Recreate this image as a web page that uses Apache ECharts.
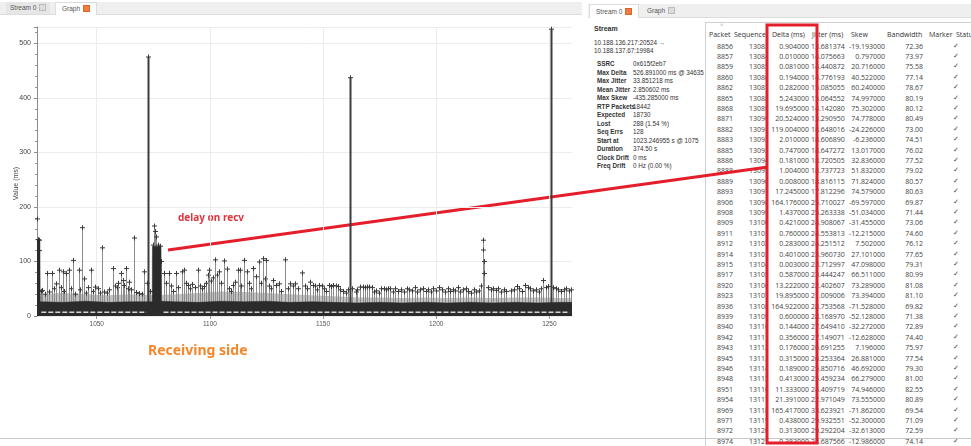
<!DOCTYPE html>
<html>
<head>
<meta charset="utf-8">
<script src="https://cdn.jsdelivr.net/npm/echarts@6/dist/echarts.min.js"></script>
<style>
  body { margin: 0; width: 971px; height: 446px; overflow: hidden; background: #fff; position: relative; font-family: "Liberation Sans", sans-serif; }
  .abs { position: absolute; white-space: nowrap; }
  .strip { position: absolute; background: #efefef; border-bottom: 1px solid #dcdcdc; }
  .tab { position: absolute; font-size: 6.5px; color: #555; line-height: 12px; height: 12px; }
  .tab.on { background: #fff; border: 1px solid #dcdcdc; border-bottom: none; }
  .ico { display: inline-block; width: 5px; height: 5px; margin-left: 3px; vertical-align: -1px; border: 1px solid #bbb; background: #ddd; }
  .ico.on { background: #f07c3e; border-color: #e0652a; }
  .st { font-size: 6.3px; color: #333; }
  .st b { position: absolute; left: 0; }
  .st span { position: absolute; left: 36px; }
  .cell { position: absolute; font-family: "Open Sans", sans-serif; font-size: 7px; color: #444; white-space: nowrap; line-height: 9px; }
  .hd { color: #333; }
</style>
</head>
<body>
<div class="strip" style="left:0;top:2px;width:582px;height:12px"></div>
<div class="tab" style="left:6px;top:2px;padding:0 4px;background:#e6e6e6">Stream 0<span class="ico"></span></div>
<div class="tab on" style="left:55px;top:2px;padding:0 6px">Graph<span class="ico on"></span></div>

<div class="strip" style="left:588px;top:4px;width:383px;height:13px"></div>
<div class="tab on" style="left:589px;top:4px;padding:0 6px;height:13px;line-height:13px">Stream 0<span class="ico on"></span></div>
<div class="tab" style="left:643px;top:4px;padding:0 4px;height:13px;line-height:13px">Graph<span class="ico"></span></div>

<div id="stats" class="abs" style="left:594px;top:0;width:110px;height:180px"></div>
<div id="table" class="abs" style="left:705px;top:22px;width:266px;height:424px;border-left:1px solid #cfcfcf;border-top:1px solid #cfcfcf;overflow:hidden"></div>
<div class="abs" style="left:0;top:438px;width:971px;height:1px;background:#c8c8c8"></div>

<div id="chart" style="position:absolute;left:0;top:0;width:971px;height:446px;z-index:2"></div>

<script>
// ---- graph: delta per packet (ms) over arrival time (s)
const xTicks = [1050, 1100, 1150, 1200, 1250]

const spikeTime = [
  1023.8, 1024.0, 1024.3, 1024.6, 1025.2, 1026.0, 1027.0, 1028.2, 1029.0, 1030.2,
  1031.0, 1032.0, 1033.4, 1034.0, 1034.9, 1035.6, 1036.4, 1037.8, 1038.5, 1039.7,
  1040.5, 1042.0, 1042.7, 1043.4, 1044.2, 1045.2, 1046.0, 1047.4, 1048.3, 1049.2,
  1050.5, 1051.3, 1052.3, 1053.2, 1054.5, 1055.6, 1057.0, 1058.0, 1058.8, 1059.6,
  1060.7, 1061.5, 1062.2, 1062.9, 1063.7, 1064.4, 1065.3, 1066.6, 1067.5, 1068.8,
  1069.8, 1071.0, 1072.0, 1072.8, 1073.6, 1074.8, 1075.2, 1075.6, 1076.4, 1077.0,
  1077.8, 1078.4, 1079.9, 1080.8, 1081.8, 1082.8, 1083.9, 1085.0, 1086.0, 1087.7,
  1088.7, 1089.6, 1090.5, 1091.4, 1092.3, 1093.5, 1094.6, 1095.6, 1096.5, 1097.4,
  1098.2, 1099.0, 1099.8, 1100.7, 1101.5, 1102.3, 1103.2, 1104.2, 1105.1, 1106.1,
  1107.4, 1108.5, 1109.3, 1110.3, 1111.2, 1112.3, 1113.1, 1113.9, 1115.0, 1116.5,
  1117.4, 1118.2, 1118.9, 1120.3, 1121.9, 1122.6, 1123.5, 1124.3, 1125.0, 1126.2,
  1127.0, 1128.0, 1129.2, 1130.5, 1131.5, 1133.3, 1134.3, 1135.4, 1136.5, 1137.7,
  1138.8, 1140.8, 1141.8, 1142.9, 1144.3, 1145.4, 1146.3, 1147.3, 1148.2, 1149.4,
  1150.5, 1151.5, 1152.7, 1153.5, 1154.5, 1155.5, 1156.4, 1157.6, 1158.7, 1160.0,
  1161.0, 1162.0, 1163.0, 1164.4, 1165.2, 1166.4, 1167.5, 1168.5, 1169.6, 1170.5,
  1171.6, 1172.7, 1173.5, 1174.6, 1175.7, 1176.8, 1177.7, 1178.8, 1179.7, 1180.8,
  1182.0, 1183.2, 1184.5, 1185.8, 1187.0, 1188.0, 1189.2, 1190.6, 1191.7, 1192.7,
  1194.0, 1195.3, 1196.4, 1197.6, 1198.8, 1200.0, 1201.4, 1202.5, 1203.7, 1205.0,
  1206.0, 1207.2, 1208.4, 1209.6, 1210.7, 1211.8, 1213.0, 1214.2, 1215.4, 1216.6,
  1217.7, 1218.8, 1219.8, 1220.7, 1220.8, 1220.9, 1221.3, 1222.8, 1224.0, 1225.2,
  1226.3, 1227.5, 1228.6, 1229.8, 1231.0, 1233.0, 1234.2, 1235.5, 1236.7, 1238.0,
  1239.2, 1240.4, 1241.5, 1242.7, 1244.0, 1245.2, 1246.2, 1247.3, 1248.4, 1249.5,
  1250.9, 1251.7, 1252.8, 1254.0, 1255.2, 1256.3, 1257.5, 1258.6, 1259.5
]
const spikeDelta = [
  178, 140, 139, 120, 45, 47, 40, 78, 44, 78,
  50, 59, 84, 52, 81, 45, 78, 84, 50, 102,
  40, 84, 48, 162, 68, 42, 52, 84, 45, 53,
  50, 42, 125, 44, 42, 48, 87, 55, 52, 60,
  78, 65, 56, 87, 50, 62, 48, 143, 43, 41,
  40, 81, 60, 475, 45, 130, 165, 155, 145, 130,
  128, 100, 78, 60, 78, 55, 45, 78, 52, 81,
  84, 60, 56, 50, 58, 52, 84, 55, 50, 54,
  60, 75, 84, 64, 70, 103, 75, 81, 60, 101,
  86, 50, 45, 56, 62, 84, 84, 55, 102, 81,
  60, 50, 87, 72, 99, 60, 105, 68, 102, 55,
  50, 65, 56, 59, 45, 103, 50, 59, 55, 59,
  50, 79, 55, 50, 62, 56, 55, 48, 56, 55,
  50, 45, 56, 54, 56, 55, 54, 48, 45, 42,
  48, 437, 50, 44, 48, 53, 53, 52, 53, 53,
  52, 44, 46, 42, 50, 50, 48, 50, 50, 44,
  50, 45, 48, 44, 50, 48, 46, 52, 44, 48,
  50, 45, 48, 44, 50, 46, 52, 48, 44, 50,
  45, 48, 46, 52, 44, 48, 50, 45, 42, 48,
  44, 46, 55, 139, 121, 100, 78, 52, 48, 50,
  47, 50, 44, 48, 45, 46, 48, 54, 50, 45,
  56, 52, 50, 46, 48, 44, 50, 65, 52, 54,
  526, 52, 50, 48, 45, 48, 50, 46, 48
]

// dense jitter noise along the bottom
const bandTime = [1023.6, 1024.9, 1025.0, 1035, 1045, 1055, 1065, 1074.5, 1074.6, 1078.4, 1078.5, 1085, 1095, 1105, 1115, 1125, 1135, 1145, 1155, 1165, 1175, 1185, 1195, 1205, 1215, 1225, 1235, 1245, 1255, 1260]
const bandTop  = [140, 140, 26, 25, 27, 25, 26, 26, 128, 128, 27, 26, 25, 27, 26, 27, 25, 26, 25, 24, 25, 24, 25, 24, 25, 24, 25, 24, 25, 25]
const hazeTime = [1023.6, 1035, 1045, 1055, 1065, 1075, 1085, 1095, 1105, 1115, 1125, 1135, 1145, 1155, 1165, 1175, 1185, 1195, 1205, 1215, 1225, 1235, 1245, 1255, 1260]
const hazeTop  = [40, 42, 40, 38, 40, 38, 40, 42, 45, 44, 42, 40, 38, 36, 34, 34, 33, 34, 33, 34, 33, 34, 34, 33, 33]
const gapTime  = [1025.5, 1072.0, 1073.0, 1079.5, 1259.0]
const gapLevel = [7, 7, null, 7, 7]

// ---- stream panel
const statLabels = ['SSRC', 'Max Delta', 'Max Jitter', 'Mean Jitter', 'Max Skew', 'RTP Packets', 'Expected', 'Lost', 'Seq Errs', 'Start at', 'Duration', 'Clock Drift', 'Freq Drift']
const statValues = ['0x615f2eb7', '526.891000 ms @ 34635', '33.851218 ms', '2.850602 ms', '-435.285000 ms', '18442', '18730', '288 (1.54 %)', '128', '1023.246955 s @ 1075', '374.50 s', '0 ms', '0 Hz (0.00 %)']

// ---- packet table
const headers = ['Packet', 'Sequence', 'Delta (ms)', 'Jitter (ms)', 'Skew', 'Bandwidth', 'Marker', 'Status']
const packets = [8856, 8857, 8859, 8860, 8862, 8865, 8868, 8871, 8882, 8883, 8885, 8886, 8888, 8889, 8893, 8906, 8908, 8909, 8911, 8912, 8914, 8915, 8917, 8920, 8923, 8936, 8939, 8940, 8942, 8943, 8945, 8946, 8948, 8951, 8954, 8969, 8971, 8972, 8974]
const sequences = [13083, 13084, 13085, 13086, 13087, 13088, 13089, 13090, 13091, 13092, 13093, 13094, 13095, 13096, 13097, 13098, 13099, 13100, 13101, 13102, 13103, 13104, 13105, 13106, 13107, 13108, 13109, 13110, 13111, 13112, 13113, 13114, 13115, 13116, 13117, 13118, 13119, 13120, 13121]
const deltas = ['0.904000', '0.010000', '0.081000', '0.194000', '0.282000', '5.243000', '19.695000', '20.524000', '119.004000', '2.010000', '0.747000', '0.181000', '1.004000', '0.008000', '17.245000', '164.176000', '1.437000', '0.421000', '0.760000', '0.283000', '0.401000', '0.003000', '0.587000', '13.222000', '19.895000', '164.922000', '0.600000', '0.144000', '0.356000', '0.176000', '0.315000', '0.189000', '0.413000', '11.333000', '21.391000', '165.417000', '0.438000', '0.313000', '0.383000']
const jitters = ['13.681374', '14.075663', '14.440872', '14.776193', '15.085055', '15.064552', '14.142080', '13.290950', '18.648016', '18.606890', '18.647272', '18.720505', '18.737723', '18.816115', '17.812296', '25.710027', '25.263338', '24.908067', '24.553813', '24.251512', '23.960730', '23.712997', '23.444247', '22.402607', '21.009006', '28.753568', '28.168970', '27.649410', '27.149071', '26.691255', '26.253364', '25.850716', '25.459234', '24.409719', '22.971049', '33.623921', '29.932551', '29.292204', '28.687566']
const skews = ['-19.193000', '0.797000', '20.716000', '40.522000', '60.240000', '74.997000', '75.302000', '74.778000', '-24.226000', '-6.236000', '13.017000', '32.836000', '51.832000', '71.824000', '74.579000', '-69.597000', '-51.034000', '-31.455000', '-12.215000', '7.502000', '27.101000', '47.098000', '66.511000', '73.289000', '73.394000', '-71.528000', '-52.128000', '-32.272000', '-12.628000', '7.196000', '26.881000', '46.692000', '66.279000', '74.946000', '73.555000', '-71.862000', '-52.300000', '-32.613000', '-12.986000']
const bandwidths = ['72.36', '73.97', '75.58', '77.14', '78.67', '80.19', '80.12', '80.49', '73.00', '74.51', '76.02', '77.52', '79.02', '80.57', '80.63', '69.87', '71.44', '73.06', '74.60', '76.12', '77.65', '79.31', '80.99', '81.08', '81.10', '69.82', '71.38', '72.89', '74.40', '75.97', '77.54', '79.30', '81.00', '82.55', '80.89', '69.54', '71.09', '72.59', '74.14']

// stream panel
let stats = document.getElementById('stats')
let html = '<div class="abs st" style="left:0;top:25px;font-size:7px"><b>Stream</b></div>'
html += '<div class="abs st" style="left:0;top:39px">10.188.136.217:20524 \u2192</div>'
html += '<div class="abs st" style="left:0;top:47px">10.188.137.67:19984</div>'
statLabels.forEach((lab, i) => {
  html += '<div class="abs st" style="left:3px;top:' + (60 + i * 8.5) + 'px;width:105px;height:8px"><b>' + lab + '</b><span>' + statValues[i] + '</span></div>'
})
stats.innerHTML = html

// packet table, coords relative to the table box (left 705, top 22)
let table = document.getElementById('table')
let t = '<div class="cell" style="left:14px;top:-2px;color:#999;font-size:6px">^</div>'
const hx = [3, 28, 66, 106, 145, 181, 223, 250]
headers.forEach((h, i) => {
  t += '<div class="cell hd" style="left:' + hx[i] + 'px;top:7px">' + h + '</div>'
})
packets.forEach((p, i) => {
  const y = 18.5 + i * 10.4
  t += '<div class="cell" style="right:' + (266 - 27) + 'px;top:' + y + 'px">' + p + '</div>'
  t += '<div class="cell" style="left:43px;top:' + y + 'px;width:18px;overflow:hidden">' + sequences[i] + '</div>'
  t += '<div class="cell" style="right:' + (266 - 103) + 'px;top:' + y + 'px">' + deltas[i] + '</div>'
  t += '<div class="cell" style="left:105px;top:' + y + 'px">' + jitters[i] + '</div>'
  t += '<div class="cell" style="right:' + (266 - 179) + 'px;top:' + y + 'px">' + skews[i] + '</div>'
  t += '<div class="cell" style="right:' + (266 - 217) + 'px;top:' + y + 'px">' + bandwidths[i] + '</div>'
  t += '<div class="cell" style="left:247px;top:' + y + 'px;font-family:\'DejaVu Sans\';font-size:7px">\u2713</div>'
})
table.innerHTML = t

// graph
let chart = echarts.init(document.getElementById('chart'))

let stems = spikeTime.map((x, i) => [x, spikeDelta[i]])

let option = {
  animation: false,
  grid: {left: 37, right: 399, top: 27, bottom: 130, outerBoundsMode: 'none'},
  xAxis: {
    type: 'value', min: 1023.6, max: 1260,
    axisLine: {show: false},
    axisTick: {show: true, length: 3, customValues: xTicks, lineStyle: {color: '#999'}},
    axisLabel: {customValues: xTicks, fontSize: 6.5, color: '#555', margin: 5, fontFamily: 'Liberation Sans', formatter: v => String(v)},
    splitLine: {show: true, lineStyle: {color: '#ececec'}}
  },
  yAxis: {
    type: 'value', min: 0, max: 530, interval: 100,
    name: 'Value (ms)', nameLocation: 'middle', nameGap: 17, nameMoveOverlap: false,
    nameTextStyle: {fontSize: 7, color: '#444', fontFamily: 'Liberation Sans', padding: [0, 24, 0, 0]},
    axisLine: {show: true, lineStyle: {color: '#8a8a8a'}},
    axisTick: {show: true, length: 3, lineStyle: {color: '#8a8a8a'}},
    minorTick: {show: true, splitNumber: 5, length: 2, lineStyle: {color: '#9a9a9a'}},
    axisLabel: {fontSize: 7, color: '#444', margin: 6, showMaxLabel: false, fontFamily: 'Liberation Sans'},
    splitLine: {lineStyle: {color: '#ececec'}}
  },
  series: [
    {
      type: 'line', z: 1, data: hazeTime.map((x, i) => [x, hazeTop[i]]),
      showSymbol: false, lineStyle: {width: 0}, areaStyle: {color: '#999999', opacity: 0.6}
    },
    {
      type: 'custom', z: 2, data: stems,
      renderItem(params, api) {
        const base = api.coord([api.value(0), 0])
        const top = api.coord([api.value(0), api.value(1)])
        const tall = api.value(1) > 200
        const x = Math.round(top[0]) + 0.5
        return {
          type: 'group', children: [
            {type: 'line', shape: {x1: x, y1: base[1], x2: x, y2: top[1]}, style: {stroke: tall ? '#3c3c3c' : '#8c8c8c', lineWidth: tall ? 2 : 1}},
            {type: 'line', shape: {x1: x - 2.5, y1: top[1], x2: x + 2.5, y2: top[1]}, style: {stroke: '#3a3a3a', lineWidth: 1}},
            {type: 'line', shape: {x1: x, y1: top[1] - 2.5, x2: x, y2: top[1] + 2.5}, style: {stroke: '#3a3a3a', lineWidth: 1}}
          ]
        }
      }
    },
    {
      type: 'line', z: 3, data: bandTime.map((x, i) => [x, bandTop[i]]),
      showSymbol: false, lineStyle: {width: 0.5, color: '#2b2b2b'}, areaStyle: {color: '#2b2b2b', opacity: 1}
    },
    {
      type: 'line', z: 4, data: gapTime.map((x, i) => [x, gapLevel[i]]),
      showSymbol: false, connectNulls: false,
      lineStyle: {width: 1.5, color: 'rgba(255,255,255,0.8)', type: [5, 2]}
    }
  ],
  graphic: [
    {type: 'text', left: 178, top: 213, style: {text: 'delay on recv', fill: '#e2333d', font: 'bold 10px "Noto Sans"'}},
    {type: 'line', shape: {x1: 168, y1: 250, x2: 768, y2: 167}, style: {stroke: '#e41e2b', lineWidth: 3}},
    {type: 'rect', shape: {x: 767, y: 25, width: 50, height: 418}, style: {fill: 'transparent', stroke: '#e41e2b', lineWidth: 3}},
    {type: 'text', left: 148, top: 344, style: {text: 'Receiving side', fill: '#f5872b', font: 'bold 14px "Noto Sans"'}}
  ]
}

chart.setOption(option)
</script>
</body>
</html>
